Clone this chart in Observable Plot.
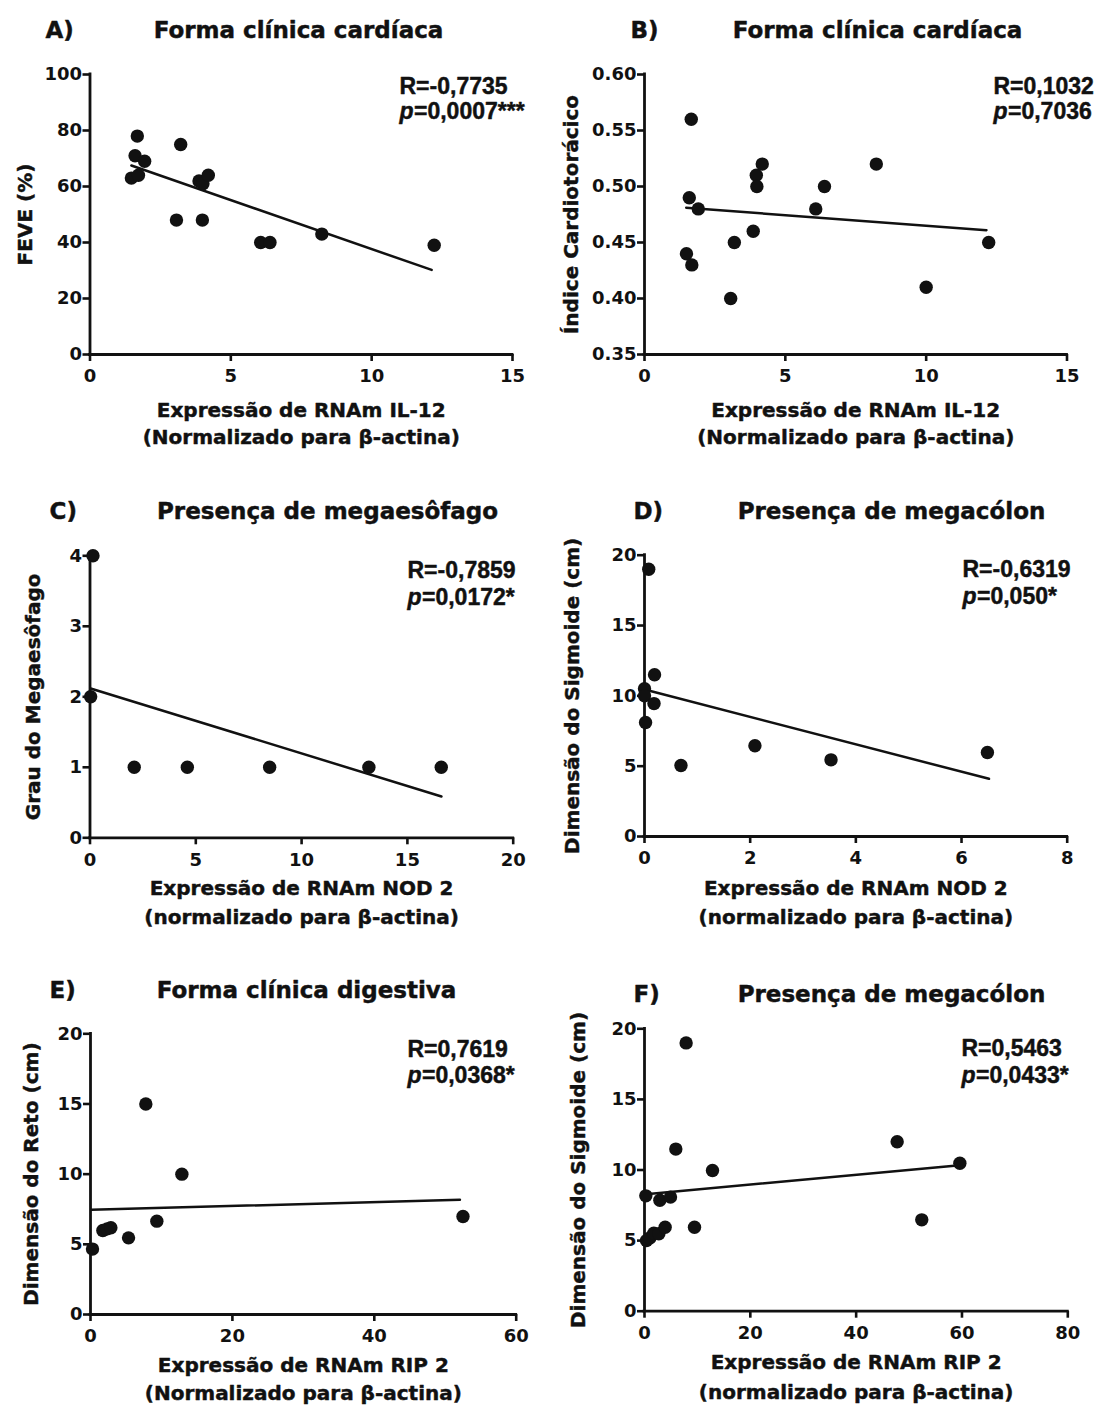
<!DOCTYPE html>
<html><head><meta charset="utf-8">
<script src="https://cdn.jsdelivr.net/npm/d3@7"></script>
<script src="https://cdn.jsdelivr.net/npm/@observablehq/plot@0.6"></script>
<style>
body{margin:0;background:#fff}
#wrap{position:relative;width:1096px;height:1412px;overflow:hidden}
#wrap svg{position:absolute;overflow:visible}
</style></head><body><div id="wrap"></div>
<script>
// ---- Panel A ----
const aX = [1.47, 1.68, 1.60, 1.72, 1.94, 3.22, 3.07, 3.87, 4.01, 4.20, 3.99, 6.06, 6.39, 8.23, 12.22];
const aY = [63, 78, 71, 64, 69, 75, 48, 62, 61, 64, 48, 40, 40, 43, 39];
const aFitX = [1.47, 12.13];
const aFitY = [67.5, 30.2];
const aXTicks = [0, 5, 10, 15];
const aYTicks = [0, 20, 40, 60, 80, 100];
// ---- Panel B ----
const bX = [1.66, 1.59, 1.91, 1.49, 1.68, 3.06, 3.19, 3.86, 3.97, 3.99, 4.18, 6.08, 6.39, 8.23, 10.0, 12.22];
const bY = [0.56, 0.49, 0.48, 0.44, 0.43, 0.40, 0.45, 0.46, 0.51, 0.50, 0.52, 0.48, 0.50, 0.52, 0.41, 0.45];
const bFitX = [1.48, 12.14];
const bFitY = [0.481, 0.461];
const bXTicks = [0, 5, 10, 15];
const bYTicks = [0.35, 0.40, 0.45, 0.50, 0.55, 0.60];
// ---- Panel C ----
const cX = [0.14, 0.03, 2.09, 4.6, 8.49, 13.18, 16.6];
const cY = [4, 2, 1, 1, 1, 1, 1];
const cFitX = [0.03, 16.61];
const cFitY = [2.118, 0.586];
const cXTicks = [0, 5, 10, 15, 20];
const cYTicks = [0, 1, 2, 3, 4];
// ---- Panel D ----
const dX = [0.08, 0.0, 0.0, 0.02, 0.19, 0.18, 0.69, 2.09, 3.53, 6.49];
const dY = [19.0, 10.5, 10.0, 8.1, 11.5, 9.45, 5.05, 6.45, 5.45, 5.97];
const dFitX = [0.02, 6.52];
const dFitY = [10.43, 4.10];
const dXTicks = [0, 2, 4, 6, 8];
const dYTicks = [0, 5, 10, 15, 20];
// ---- Panel E ----
const eX = [0.28, 1.74, 2.35, 2.87, 5.36, 9.35, 7.8, 12.88, 52.5];
const eY = [4.66, 5.99, 6.10, 6.18, 5.46, 6.65, 15.0, 10.0, 6.98];
const eFitX = [0.1, 52.07];
const eFitY = [7.46, 8.17];
const eXTicks = [0, 20, 40, 60];
const eYTicks = [0, 5, 10, 15, 20];
// ---- Panel F ----
const fX = [0.25, 0.38, 1.0, 1.76, 2.71, 2.9, 3.9, 4.91, 5.92, 7.87, 9.45, 12.85, 47.75, 52.4, 59.6];
const fY = [8.17, 5.0, 5.19, 5.53, 5.48, 7.86, 5.95, 8.08, 11.48, 19.0, 5.95, 9.96, 12.0, 6.47, 10.48];
const fFitX = [0.25, 59.09];
const fFitY = [8.29, 10.32];
const fXTicks = [0, 20, 40, 60, 80];
const fYTicks = [0, 5, 10, 15, 20];

// ---- texts ----
const letters = ["A)", "B)", "C)", "D)", "E)", "F)"];
const titles = ["Forma clínica cardíaca", "Forma clínica cardíaca", "Presença de megaesôfago", "Presença de megacólon", "Forma clínica digestiva", "Presença de megacólon"];
const yLabels = ["FEVE (%)", "Índice Cardiotorácico", "Grau do Megaesôfago", "Dimensão do Sigmoide (cm)", "Dimensão do Reto (cm)", "Dimensão do Sigmoide (cm)"];
const xLabels1 = ["Expressão de RNAm IL-12", "Expressão de RNAm IL-12", "Expressão de RNAm NOD 2", "Expressão de RNAm NOD 2", "Expressão de RNAm RIP 2", "Expressão de RNAm RIP 2"];
const xLabels2 = ["(Normalizado para β-actina)", "(Normalizado para β-actina)", "(normalizado para β-actina)", "(normalizado para β-actina)", "(Normalizado para β-actina)", "(normalizado para β-actina)"];
const rTexts = ["R=-0,7735", "R=0,1032", "R=-0,7859", "R=-0,6319", "R=0,7619", "R=0,5463"];
const pTexts = ["=0,0007***", "=0,7036", "=0,0172*", "=0,050*", "=0,0368*", "=0,0433*"];

const SANS = "'DejaVu Sans', sans-serif";
const ARIAL = "'Liberation Sans', Arial, sans-serif";
const INK = "#111";

function panel(o) {
  const {left, top, width, height, ml, mr, mt, mb} = o.box;
  const L = o.lay;
  const at = (X, Y) => ({frameAnchor: "top-left", dx: X - ml, dy: Y - mt});
  const pts = o.xs.map((x, i) => ({x, y: o.ys[i]}));
  const fit = o.fitX.map((x, i) => ({x, y: o.fitY[i]}));
  const xmin = o.xTicks[0], xmax = o.xTicks[o.xTicks.length - 1];
  const ymin = o.yTicks[0], ymax = o.yTicks[o.yTicks.length - 1];
  const plotBottom = height - mb;
  const plotMidY = (mt + plotBottom) / 2;
  const plotMidX = (ml + width - mr) / 2;
  const heavy = {stroke: INK, strokeWidth: 0.45};
  const t = (s, opts) => Plot.text([s], {text: d => d, fill: INK, ...heavy, ...opts});
  const svg = Plot.plot({
    width, height,
    marginLeft: ml, marginRight: mr, marginTop: mt, marginBottom: mb,
    style: {fontFamily: SANS, fontSize: "18px", fontWeight: "bold", color: INK, background: "transparent", overflow: "visible"},
    x: {domain: [xmin, xmax]},
    y: {domain: [ymin, ymax]},
    marks: [
      Plot.axisX({ticks: o.xTicks, tickSize: 7, tickPadding: 8, strokeWidth: 2.6, label: null, tickFormat: o.xFmt || (d => String(d)), fontSize: 18, fontWeight: "bold", fill: INK}),
      Plot.axisY({ticks: o.yTicks, tickSize: 7, tickPadding: 1, strokeWidth: 2.6, label: null, tickFormat: o.yFmt || (d => String(d)), fontSize: 18, fontWeight: "bold", fill: INK}),
      Plot.ruleX([xmin], {y1: ymin, y2: ymax, strokeWidth: 2.8, stroke: INK, strokeLinecap: "square"}),
      Plot.ruleY([ymin], {x1: xmin, x2: xmax, strokeWidth: 2.8, stroke: INK, strokeLinecap: "square"}),
      Plot.line(fit, {x: "x", y: "y", strokeWidth: 2.5, stroke: INK}),
      Plot.dot(pts, {x: "x", y: "y", r: 6.7, fill: INK}),
      t(o.letter, {...at(L.letterX, L.titleY), textAnchor: "start", lineAnchor: "middle", fontFamily: SANS, fontSize: 23, fontWeight: "bold"}),
      t(o.title, {...at(L.titleX, L.titleY), textAnchor: "middle", lineAnchor: "middle", fontFamily: SANS, fontSize: 23, fontWeight: "bold"}),
      t(o.xl1, {...at(plotMidX, L.xl1Y), textAnchor: "middle", lineAnchor: "middle", fontFamily: SANS, fontSize: 20, fontWeight: "bold"}),
      t(o.xl2, {...at(plotMidX, L.xl2Y), textAnchor: "middle", lineAnchor: "middle", fontFamily: SANS, fontSize: 20, fontWeight: "bold"}),
      t(o.yl, {...at(L.ylX, plotMidY), rotate: -90, textAnchor: "middle", lineAnchor: "middle", fontFamily: SANS, fontSize: 20, fontWeight: "bold"}),
      t(o.r, {...at(L.annX, L.rY), textAnchor: "start", lineAnchor: "bottom", fontFamily: ARIAL, fontSize: 23, fontWeight: "bold"}),
      t("p", {...at(L.annX, L.pY), textAnchor: "start", lineAnchor: "bottom", fontFamily: ARIAL, fontSize: 23, fontWeight: "bold", fontStyle: "italic"}),
      t(o.p, {...at(L.annX + 14.5, L.pY), textAnchor: "start", lineAnchor: "bottom", fontFamily: ARIAL, fontSize: 23, fontWeight: "bold"})
    ]
  });
  svg.style.left = left + "px";
  svg.style.top = top + "px";
  document.getElementById("wrap").appendChild(svg);
}

const f2 = d3.format(".2f");
const cfgs = [
  {xs: aX, ys: aY, fitX: aFitX, fitY: aFitY, xTicks: aXTicks, yTicks: aYTicks,
   box: {left: 0, top: 0, width: 548, height: 470, ml: 89.5, mr: 36, mt: 74, mb: 116},
   lay: {letterX: 45, titleX: 298, titleY: 30, xl1Y: 410, xl2Y: 437, ylX: 25, annX: 399, rY: 93, pY: 118.5}},
  {xs: bX, ys: bY, fitX: bFitX, fitY: bFitY, xTicks: bXTicks, yTicks: bYTicks, yFmt: f2,
   box: {left: 548, top: 0, width: 548, height: 470, ml: 96, mr: 29.5, mt: 74, mb: 116},
   lay: {letterX: 82, titleX: 329, titleY: 30, xl1Y: 410, xl2Y: 437, ylX: 23, annX: 445, rY: 93, pY: 118.5}},
  {xs: cX, ys: cY, fitX: cFitX, fitY: cFitY, xTicks: cXTicks, yTicks: cYTicks,
   box: {left: 0, top: 470, width: 548, height: 480, ml: 89.5, mr: 35.3, mt: 85.3, mb: 112.7},
   lay: {letterX: 49, titleX: 327, titleY: 41, xl1Y: 418, xl2Y: 447, ylX: 33, annX: 407, rY: 107, pY: 134}},
  {xs: dX, ys: dY, fitX: dFitX, fitY: dFitY, xTicks: dXTicks, yTicks: dYTicks,
   box: {left: 548, top: 470, width: 548, height: 480, ml: 96, mr: 29.3, mt: 84.7, mb: 114},
   lay: {letterX: 85, titleX: 343, titleY: 41, xl1Y: 418, xl2Y: 447, ylX: 24, annX: 414, rY: 106, pY: 133}},
  {xs: eX, ys: eY, fitX: eFitX, fitY: eFitY, xTicks: eXTicks, yTicks: eYTicks,
   box: {left: 0, top: 950, width: 548, height: 462, ml: 90, mr: 32.3, mt: 83.3, mb: 98},
   lay: {letterX: 49, titleX: 306, titleY: 40, xl1Y: 415, xl2Y: 443, ylX: 31, annX: 407, rY: 106, pY: 132.7}},
  {xs: fX, ys: fY, fitX: fFitX, fitY: fFitY, xTicks: fXTicks, yTicks: fYTicks,
   box: {left: 548, top: 950, width: 548, height: 462, ml: 96, mr: 28.7, mt: 78.3, mb: 101.3},
   lay: {letterX: 85, titleX: 343, titleY: 44, xl1Y: 412, xl2Y: 442, ylX: 30, annX: 413, rY: 105, pY: 132.7}}
];
cfgs.forEach((c, i) => panel({...c, letter: letters[i], title: titles[i], yl: yLabels[i], xl1: xLabels1[i], xl2: xLabels2[i], r: rTexts[i], p: pTexts[i]}));
</script></body></html>
